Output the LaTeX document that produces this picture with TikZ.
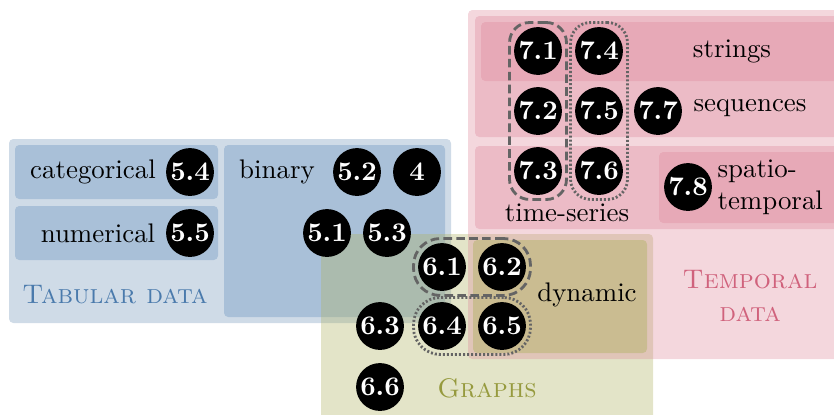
\documentclass[tikz,border=0pt]{standalone}
\usetikzlibrary{fit}
\definecolor{tabouter}{RGB}{207,219,231}
\definecolor{tabinner}{RGB}{169,192,216}
\definecolor{tablabel}{RGB}{74,122,172}
\definecolor{graphfill}{RGB}{175,178,98}
\definecolor{graphlabel}{RGB}{150,154,62}
\definecolor{tempfill}{RGB}{220,130,150}
\definecolor{templabel}{RGB}{208,98,124}
\definecolor{groupline}{RGB}{100,100,100}
\begin{document}
\begin{tikzpicture}[x=0.372pt,y=-0.372pt,
  num/.style={circle,fill=black,text=white,font=\bfseries,minimum size=17.8pt,inner sep=0pt},
  box/.style={rounded corners=1.6pt},
  lbl/.style={inner sep=0pt},
  grpdash/.style={draw=groupline,line width=1.05pt,dash pattern=on 3.2pt off 1.6pt,inner sep=1.5pt},
  grpdot/.style={draw=groupline,line width=1.05pt,dash pattern=on 0.75pt off 0.75pt,inner sep=1.5pt}]
\clip (0,0) rectangle (834,414);
% tabular data
\fill[tabouter,box] (9,139) rectangle (451,323);
\fill[tabinner,box] (15,145) rectangle (218,199);
\fill[tabinner,box] (15,206) rectangle (218,260);
\fill[tabinner,box] (224,145) rectangle (445,317);
% graphs
\fill[graphfill,fill opacity=0.35,box] (321,234) rectangle (653,440);
% temporal data
\begin{scope}[fill=tempfill,fill opacity=0.32]
  \fill[box] (468,10) rectangle (860,359);
  \fill[box] (475,16) rectangle (860,137);
  \fill[box] (481,22) rectangle (860,81);
  \fill[box] (475,146) rectangle (860,229);
  \fill[box] (659,152) rectangle (860,223);
\end{scope}
% dynamic graphs
\fill[graphfill,fill opacity=0.45,box] (473,240) rectangle (647,353);

% labels
\node[lbl] (tcat) at (93,172) {categorical};
\node[lbl] (tnum) at (98,233) {numerical};
\node[lbl] (tbin) at (277,172) {binary};
\node[lbl,text=tablabel] (ttab) at (115,295) {\textsc{Tabular data}};
\node[lbl,text=graphlabel] (tgra) at (487,388) {\textsc{Graphs}};
\node[lbl] (tdyn) at (587,295) {dynamic};
\node[lbl] (tstr) at (732,51) {strings};
\node[lbl] (tseq) at (750,108) {sequences};
\node[lbl] (tts) at (567,213) {time-series};
\node[lbl,anchor=west,align=left] (tspt) at (717,187) {spatio-\\temporal};
\node[lbl,text=templabel,align=center] (ttem) at (750,296) {\textsc{Temporal}\\\textsc{data}};

% numbered circles
\node[num] (c54) at (190,172) {5.4};
\node[num] (c55) at (190,233) {5.5};
\node[num] (c52) at (357,172) {5.2};
\node[num] (c4)  at (417,172) {4};
\node[num] (c51) at (327,233) {5.1};
\node[num] (c53) at (387,233) {5.3};

\node[num] (c61) at (442,267) {6.1};
\node[num] (c62) at (502,267) {6.2};
\node[num] (c63) at (380,326) {6.3};
\node[num] (c64) at (442,326) {6.4};
\node[num] (c65) at (502,326) {6.5};
\node[num] (c66) at (380,387) {6.6};

\node[num] (c71) at (538,51) {7.1};
\node[num] (c72) at (538,111) {7.2};
\node[num] (c73) at (538,171) {7.3};
\node[num] (c74) at (599,51) {7.4};
\node[num] (c75) at (599,111) {7.5};
\node[num] (c76) at (599,171) {7.6};
\node[num] (c77) at (658,111) {7.7};
\node[num] (c78) at (688,187) {7.8};

% groupings
\node[grpdash,rounded corners=10pt,fit=(c61)(c62)] (g1) {};
\node[grpdot,rounded corners=10pt,fit=(c64)(c65)] (g2) {};
\node[grpdash,rounded corners=7.5pt,fit=(c71)(c73)] (g3) {};
\node[grpdot,rounded corners=7.5pt,fit=(c74)(c76)] (g4) {};
\end{tikzpicture}
\end{document}
